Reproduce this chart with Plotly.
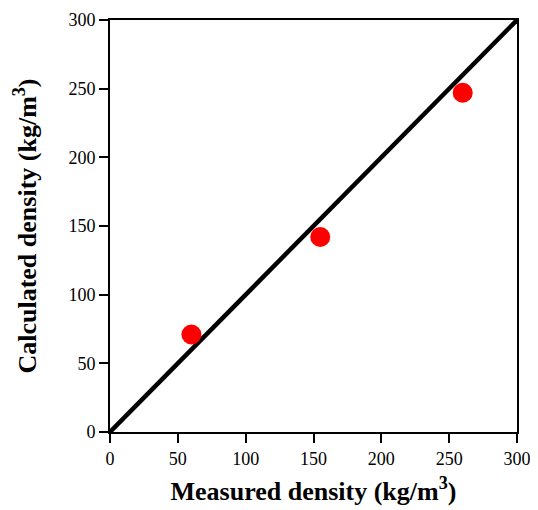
import plotly.graph_objects as go

measured = [60, 155, 260]
calculated = [71, 142, 247]
line_x = [0, 300]
line_y = [0, 300]
tick_vals = [0, 50, 100, 150, 200, 250, 300]

font_family = "Liberation Serif, Times New Roman, serif"

fig = go.Figure()
fig.add_trace(go.Scatter(x=line_x, y=line_y, mode="lines",
                         line=dict(color="black", width=4.5), showlegend=False))
fig.add_trace(go.Scatter(x=measured, y=calculated, mode="markers",
                         marker=dict(color="#ff0000", size=20, line=dict(width=0)),
                         showlegend=False, cliponaxis=False))

axis_common = dict(
    range=[0, 300], tickvals=tick_vals, ticks="outside", ticklen=9, tickwidth=2,
    tickcolor="black", showline=True, linewidth=2, linecolor="black", mirror=True,
    showgrid=False, zeroline=False, automargin=False,
    tickfont=dict(family=font_family, size=18, color="black"),
)

fig.update_layout(
    width=530, height=502,
    margin=dict(l=102, r=21, t=12, b=78),
    paper_bgcolor="white", plot_bgcolor="white",
    xaxis=dict(**axis_common,
               title=dict(text="<b>Measured density (kg/m<sup>3</sup>)</b>",
                          font=dict(family=font_family, size=26, color="black"),
                          standoff=14)),
    yaxis=dict(**axis_common,
               title=dict(text="<b>Calculated density (kg/m<sup>3</sup>)</b>",
                          font=dict(family=font_family, size=26, color="black"),
                          standoff=24)),
)

fig.write_html("out.html")
